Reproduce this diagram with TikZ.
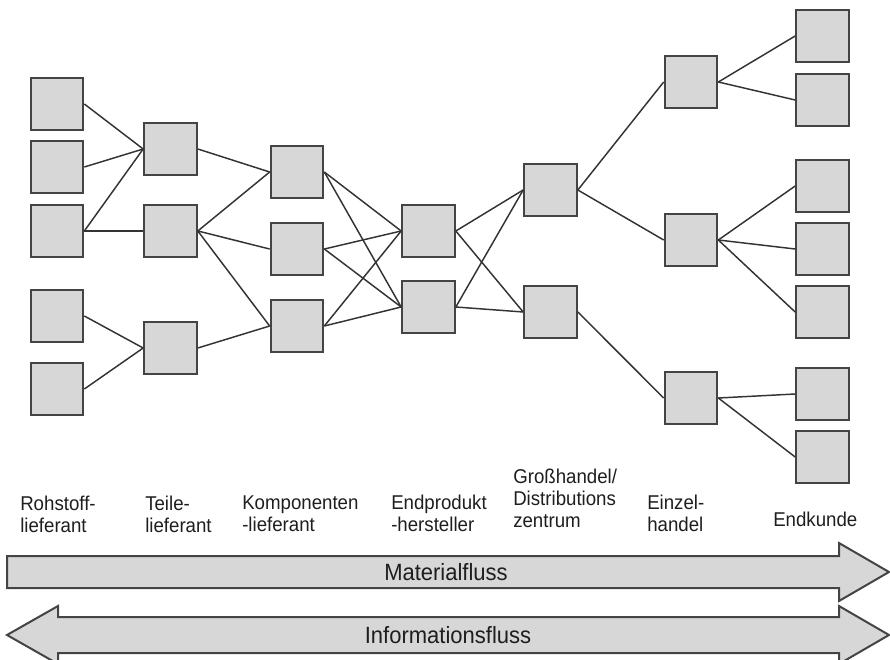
\documentclass[tikz,border=0pt]{standalone}
\usepackage{fontspec}
\setmainfont{Liberation Sans}
\definecolor{boxfill}{HTML}{D7D7D7}
\definecolor{linec}{HTML}{444444}
\definecolor{connc}{HTML}{333333}
\definecolor{txt}{HTML}{1E1E1E}
\newcommand{\vst}[1]{\scalebox{1}[1.07]{#1}}
\begin{document}
\begin{tikzpicture}[x=0.75pt,y=-0.75pt,
  box/.style={draw=linec, fill=boxfill, line width=1.5pt, minimum width=39.5pt, minimum height=39.5pt, inner sep=0pt},
  conn/.style={draw=connc, line width=1.1pt},
  lbl/.style={anchor=base west, inner sep=0pt, text=txt, font=\fontsize{14}{16.5}\selectfont},
  flow/.style={draw=linec, fill=boxfill, line width=1.5pt, line join=miter},
  flowlbl/.style={inner sep=0pt, text=txt, font=\fontsize{16.5}{20}\selectfont}
]
\useasboundingbox (0,0) rectangle (890,660);
\clip (0,0) rectangle (890,660);

% column 1: Rohstofflieferant
\node[box] (r1) at (57,104) {};
\node[box] (r2) at (57,167) {};
\node[box] (r3) at (57,231) {};
\node[box] (r4) at (57,316) {};
\node[box] (r5) at (57,389) {};
% column 2: Teilelieferant
\node[box] (t1) at (170.5,149) {};
\node[box] (t2) at (170.5,231) {};
\node[box] (t3) at (170.5,348) {};
% column 3: Komponentenlieferant
\node[box] (k1) at (297,172) {};
\node[box] (k2) at (297,249) {};
\node[box] (k3) at (297,326) {};
% column 4: Endprodukthersteller
\node[box] (e1) at (428.5,231) {};
\node[box] (e2) at (428.5,307) {};
% column 5: Grosshandel
\node[box] (g1) at (550.5,190) {};
\node[box] (g2) at (550.5,312) {};
% column 6: Einzelhandel
\node[box] (h1) at (691,82) {};
\node[box] (h2) at (691,240) {};
\node[box] (h3) at (691,398) {};
% column 7: Endkunde
\node[box] (c1) at (822.5,36) {};
\node[box] (c2) at (822.5,100) {};
\node[box] (c3) at (822.5,186) {};
\node[box] (c4) at (822.5,249) {};
\node[box] (c5) at (822.5,312) {};
\node[box] (c6) at (822.5,394) {};
\node[box] (c7) at (822.5,457) {};

% connectors
\draw[conn] (r1.east) -- (t1.west);
\draw[conn] (r2.east) -- (t1.west);
\draw[conn] (r3.east) -- (t1.west);
\draw[conn] (r3.east) -- (t2.west);
\draw[conn] (r4.east) -- (t3.west);
\draw[conn] (r5.east) -- (t3.west);

\draw[conn] (t1.east) -- (k1.west);
\draw[conn] (t2.east) -- (k1.west);
\draw[conn] (t2.east) -- (k2.west);
\draw[conn] (t2.east) -- (k3.west);
\draw[conn] (t3.east) -- (k3.west);

\draw[conn] (k1.east) -- (e1.west);
\draw[conn] (k1.east) -- (e2.west);
\draw[conn] (k2.east) -- (e1.west);
\draw[conn] (k2.east) -- (e2.west);
\draw[conn] (k3.east) -- (e1.west);
\draw[conn] (k3.east) -- (e2.west);

\draw[conn] (e1.east) -- (g1.west);
\draw[conn] (e1.east) -- (g2.west);
\draw[conn] (e2.east) -- (g1.west);
\draw[conn] (e2.east) -- (g2.west);

\draw[conn] (g1.east) -- (h1.west);
\draw[conn] (g1.east) -- (h2.west);
\draw[conn] (g2.east) -- (h3.west);

\draw[conn] (h1.east) -- (c1.west);
\draw[conn] (h1.east) -- (c2.west);
\draw[conn] (h2.east) -- (c3.west);
\draw[conn] (h2.east) -- (c4.west);
\draw[conn] (h2.east) -- (c5.west);
\draw[conn] (h3.east) -- (c6.west);
\draw[conn] (h3.east) -- (c7.west);

% stage labels
\node[lbl] (la1) at (20,510) {\vst{Rohstoff-}};
\node[lbl] (la2) at (20,532) {\vst{lieferant}};
\node[lbl] (lb1) at (145,510) {\vst{Teile-}};
\node[lbl] (lb2) at (145,532) {\vst{lieferant}};
\node[lbl] (lc1) at (242,509) {\vst{Komponenten}};
\node[lbl] (lc2) at (242,531) {\vst{-lieferant}};
\node[lbl] (ld1) at (391,509) {\vst{Endprodukt}};
\node[lbl] (ld2) at (391,531) {\vst{-hersteller}};
\node[lbl] (le1) at (513,483) {\vst{Großhandel/}};
\node[lbl] (le2) at (513,505) {\vst{Distributions}};
\node[lbl] (le3) at (513,527) {\vst{zentrum}};
\node[lbl] (lf1) at (647,509) {\vst{Einzel-}};
\node[lbl] (lf2) at (647,531) {\vst{handel}};
\node[lbl] (lg1) at (773,526) {\vst{Endkunde}};

% flow arrows
\draw[flow] (7,556) -- (839,556) -- (839,543) -- (889,572) -- (839,601) -- (839,588) -- (7,588) -- cycle;
\draw[flow] (7,635) -- (58,606) -- (58,617) -- (839,617) -- (839,606) -- (889,635) -- (839,664) -- (839,653) -- (58,653) -- (58,664) -- cycle;
\node[flowlbl] (mf) at (446,572) {\vst{Materialfluss}};
\node[flowlbl] (inf) at (448,635) {\vst{Informationsfluss}};
\end{tikzpicture}
\end{document}
